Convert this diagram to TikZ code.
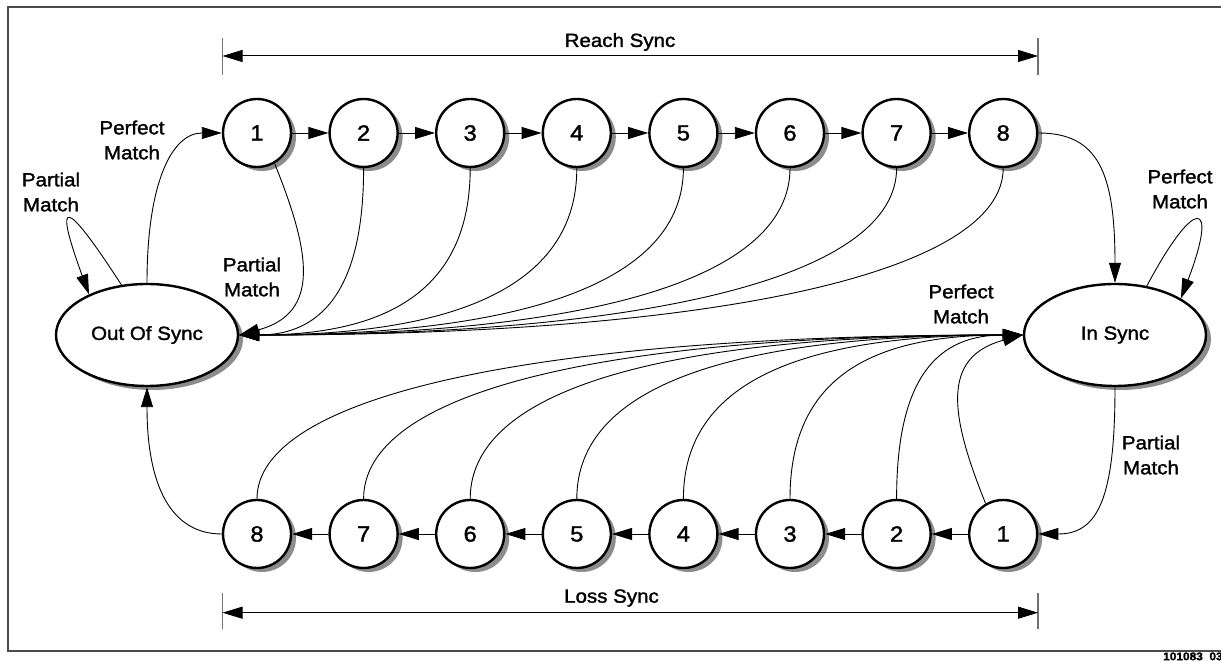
\documentclass[tikz,border=0pt]{standalone}
\usepackage{fontspec}
\setmainfont{Liberation Sans}[FakeStretch=1.08,FakeBold=1.6]
\usetikzlibrary{arrows.meta,shapes.geometric,shadows}
\begin{document}
\begin{tikzpicture}[x=1pt,y=1pt,
  shad/.style={drop shadow={shadow xshift=5pt,shadow yshift=-4pt,fill=black!45,opacity=1}},
  state/.style={circle,draw,line width=2.4pt,minimum size=68pt,inner sep=0pt,fill=white,
    font=\fontsize{22}{22}\selectfont,shad},
  bigstate/.style={ellipse,draw,line width=2.4pt,fill=white,minimum width=182pt,
    minimum height=102pt,inner sep=0pt,font=\fontsize{19}{19}\selectfont,shad},
  tip/.tip={Triangle[length=20pt,width=12pt]},
  conn/.style={line width=0.9pt,-tip},
  lbl/.style={align=center,font=\fontsize{19}{25}\selectfont,inner sep=0pt},
  dimline/.style={line width=1pt,tip-tip},
  tickline/.style={line width=1.3pt,black!55},
  frameline/.style={line width=2.2pt,black!70}]
\useasboundingbox (0,0) rectangle (1221,661);
\fill[white] (0,0) rectangle (1221,661);
% frame
\draw[frameline] (1235,654.3) -- (8,654.3) -- (8,10.3) -- (1235,10.3);
\node[anchor=west,inner sep=0pt,font=\bfseries\fontsize{11}{11}\selectfont] (fig) at (1163,4) {101083\_03};
% states
\node[bigstate] (oos) at (147,326) {Out Of Sync};
\node[bigstate] (ins) at (1115,326) {In Sync};
\foreach \i in {1,...,8} {
  \node[state] (t\i) at ({257+106.6*(\i-1)},528) {\i};
  \node[state] (b\i) at ({257+106.6*(8-\i)},127) {\i};
}
% chain arrows
\foreach \i/\j in {1/2,2/3,3/4,4/5,5/6,6/7,7/8} {
  \draw[conn] (t\i.east) -- (t\j.west);
  \draw[conn] (b\i.west) -- (b\j.east);
}
% top curves back to out of sync
\draw[conn] (t1.-60) .. controls +(-68:95) and +(15:85) .. (oos.east);
\foreach \i in {2,...,8} {
  \pgfmathsetmacro\L{0.65*(257+106.6*(\i-1)-241)}
  \pgfmathsetmacro\K{125-4*(\i-2)}
  \draw[conn] (t\i.south) .. controls +(0,-\K) and +(\L,0) .. (oos.east);
}
% bottom curves to in sync
\draw[conn] (b1.120) .. controls +(112:95) and +(195:85) .. (ins.west);
\foreach \i in {2,...,8} {
  \pgfmathsetmacro\L{0.65*(1024-(257+106.6*(8-\i)))}
  \pgfmathsetmacro\K{125-4*(\i-2)}
  \draw[conn] (b\i.north) .. controls +(0,\K) and +(-\L,0) .. (ins.west);
}
% other connectors
\draw[conn] (oos.north) .. controls +(0,100) and +(-50,0) .. (t1.west);
\draw[conn] (b8.west) .. controls +(-50,0) and +(0,-100) .. (oos.south);
\draw[conn] (t8.east) .. controls +(60,0) and +(0,110) .. (ins.north);
\draw[conn] (ins.south) .. controls +(0,-110) and +(60,0) .. (b1.east);
\draw[conn] (oos.117) .. controls +(123:105) and +(110:105) .. (oos.145);
\draw[conn] (ins.57) .. controls +(62:105) and +(69:105) .. (ins.29);
% labels
\node[lbl] (lpm1) at (51,469) {Partial\\Match};
\node[lbl] (lpf1) at (132,521) {Perfect\\Match};
\node[lbl] (lpm2) at (252,384) {Partial\\Match};
\node[lbl] (lpf2) at (1180,472) {Perfect\\Match};
\node[lbl] (lpf3) at (961,357) {Perfect\\Match};
\node[lbl] (lpm3) at (1151,206) {Partial\\Match};
% dimension lines
\coordinate (rl) at (222.5,605); \coordinate (rr) at (1038,605);
\draw[tickline] (222.5,586) -- (222.5,623);
\draw[tickline] (1038,586) -- (1038,623);
\draw[dimline] (rl) -- (rr);
\node[lbl] (reach) at (620,619) {Reach Sync};
\coordinate (ll) at (222.5,48.3); \coordinate (lr) at (1038,48.3);
\draw[tickline] (222.5,32) -- (222.5,68);
\draw[tickline] (1038,32) -- (1038,68);
\draw[dimline] (ll) -- (lr);
\node[lbl] (loss) at (611.5,63) {Loss Sync};
\end{tikzpicture}
\end{document}
